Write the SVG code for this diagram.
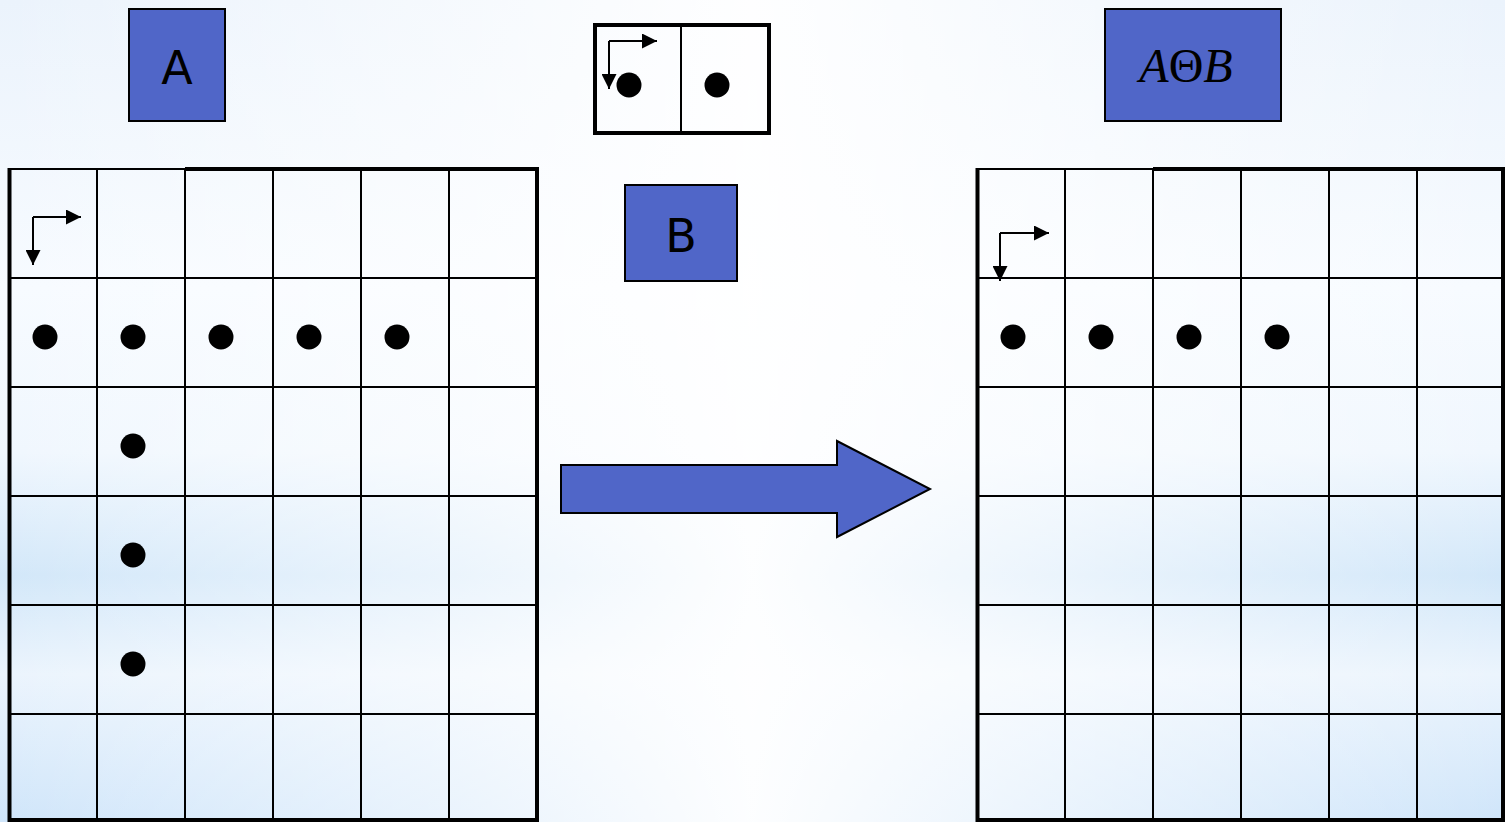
<svg xmlns="http://www.w3.org/2000/svg" width="1505" height="822" viewBox="0 0 1505 822">
<defs>
<linearGradient id="bgv" x1="0" y1="0" x2="0" y2="1">
<stop offset="0" stop-color="#ebf3fc"/>
<stop offset="0.35" stop-color="#f7fbff"/>
<stop offset="0.55" stop-color="#f0f7fe"/>
<stop offset="0.70" stop-color="#d2e7f9"/>
<stop offset="0.82" stop-color="#ebf4fd"/>
<stop offset="1" stop-color="#cfe5fa"/>
</linearGradient>
<linearGradient id="bgh" x1="0" y1="0" x2="1" y2="0">
<stop offset="0" stop-color="#ffffff" stop-opacity="0"/>
<stop offset="0.3" stop-color="#ffffff" stop-opacity="0.55"/>
<stop offset="0.5" stop-color="#ffffff" stop-opacity="0.95"/>
<stop offset="0.7" stop-color="#ffffff" stop-opacity="0.55"/>
<stop offset="1" stop-color="#ffffff" stop-opacity="0"/>
</linearGradient>
<marker id="ah" viewBox="0 0 10 10" refX="10" refY="5" markerWidth="7.5" markerHeight="7.5" markerUnits="strokeWidth" orient="auto">
<path d="M0,0 L10,5 L0,10 Z" fill="#000"/>
</marker>
</defs>
<style>
.box{fill:#5066c8;stroke:#000;stroke-width:2}
.lbl{font-family:"DejaVu Sans","Open Sans",sans-serif;font-size:46px;fill:#000;text-anchor:middle}
.thin{stroke:#000;stroke-width:2;fill:none}
.thick{stroke:#000;stroke-width:4;fill:none}
.dot{fill:#000}
.ptr{stroke:#000;stroke-width:2;fill:none;marker-end:url(#ah)}
</style>
<rect x="0" y="0" width="1505" height="822" fill="url(#bgv)"/>
<rect x="0" y="0" width="1505" height="822" fill="url(#bgh)"/>

<g id="label-A">
<rect class="box" x="129" y="9" width="96" height="112"/>
<text class="lbl" x="177" y="84">A</text>
</g>
<g id="label-B">
<rect class="box" x="625" y="185" width="112" height="96"/>
<text class="lbl" x="681" y="252">B</text>
</g>
<g id="label-result">
<rect class="box" x="1105" y="9" width="176" height="112"/>
<text x="1186" y="82" font-family="'Liberation Serif','Times New Roman',serif" font-size="48" text-anchor="middle" fill="#000"><tspan font-style="italic">A</tspan>Θ<tspan font-style="italic">B</tspan></text>
</g>

<g id="struct-B">
<rect x="595" y="25" width="174" height="108" fill="none" stroke="#000" stroke-width="4"/>
<line class="thin" x1="681" y1="25" x2="681" y2="133"/>
<circle class="dot" cx="629" cy="85" r="12.5"/>
<circle class="dot" cx="717" cy="85" r="12.5"/>
<path class="ptr" d="M609,41 H657"/>
<path class="ptr" d="M609,41 V89"/>
</g>

<g id="grid-A">
<g class="thin">
<line x1="97" y1="169" x2="97" y2="822"/>
<line x1="185" y1="169" x2="185" y2="822"/>
<line x1="273" y1="169" x2="273" y2="822"/>
<line x1="361" y1="169" x2="361" y2="822"/>
<line x1="449" y1="169" x2="449" y2="822"/>
<line x1="9" y1="169" x2="185" y2="169"/>
<line x1="9" y1="278" x2="537" y2="278"/>
<line x1="9" y1="387" x2="537" y2="387"/>
<line x1="9" y1="496" x2="537" y2="496"/>
<line x1="9" y1="605" x2="537" y2="605"/>
<line x1="9" y1="714" x2="537" y2="714"/>
</g>
<g class="thick">
<line x1="9.5" y1="168" x2="9.5" y2="822"/>
<line x1="537" y1="167" x2="537" y2="822"/>
<line x1="185" y1="169" x2="539" y2="169"/>
<line x1="8" y1="820" x2="539" y2="820"/>
</g>
<path class="ptr" d="M33,217 H81"/>
<path class="ptr" d="M33,217 V265"/>
<circle class="dot" cx="45" cy="337" r="12.5"/>
<circle class="dot" cx="133" cy="337" r="12.5"/>
<circle class="dot" cx="221" cy="337" r="12.5"/>
<circle class="dot" cx="309" cy="337" r="12.5"/>
<circle class="dot" cx="397" cy="337" r="12.5"/>
<circle class="dot" cx="133" cy="446" r="12.5"/>
<circle class="dot" cx="133" cy="555" r="12.5"/>
<circle class="dot" cx="133" cy="664" r="12.5"/>
</g>

<g id="grid-result">
<g class="thin">
<line x1="1065" y1="169" x2="1065" y2="822"/>
<line x1="1153" y1="169" x2="1153" y2="822"/>
<line x1="1241" y1="169" x2="1241" y2="822"/>
<line x1="1329" y1="169" x2="1329" y2="822"/>
<line x1="1417" y1="169" x2="1417" y2="822"/>
<line x1="977" y1="169" x2="1153" y2="169"/>
<line x1="977" y1="278" x2="1505" y2="278"/>
<line x1="977" y1="387" x2="1505" y2="387"/>
<line x1="977" y1="496" x2="1505" y2="496"/>
<line x1="977" y1="605" x2="1505" y2="605"/>
<line x1="977" y1="714" x2="1505" y2="714"/>
</g>
<g class="thick">
<line x1="977.5" y1="168" x2="977.5" y2="822"/>
<line x1="1503" y1="167" x2="1503" y2="822"/>
<line x1="1153" y1="169" x2="1505" y2="169"/>
<line x1="976" y1="820" x2="1505" y2="820"/>
</g>
<path class="ptr" d="M1000,233 H1049"/>
<path class="ptr" d="M1000,233 V281"/>
<circle class="dot" cx="1013" cy="337" r="12.5"/>
<circle class="dot" cx="1101" cy="337" r="12.5"/>
<circle class="dot" cx="1189" cy="337" r="12.5"/>
<circle class="dot" cx="1277" cy="337" r="12.5"/>
</g>

<g id="connectors">
<path d="M561,465 H837 V441 L930,489 L837,537 V513 H561 Z" fill="#5066c8" stroke="#000" stroke-width="2" stroke-linejoin="miter"/>
</g>
</svg>
